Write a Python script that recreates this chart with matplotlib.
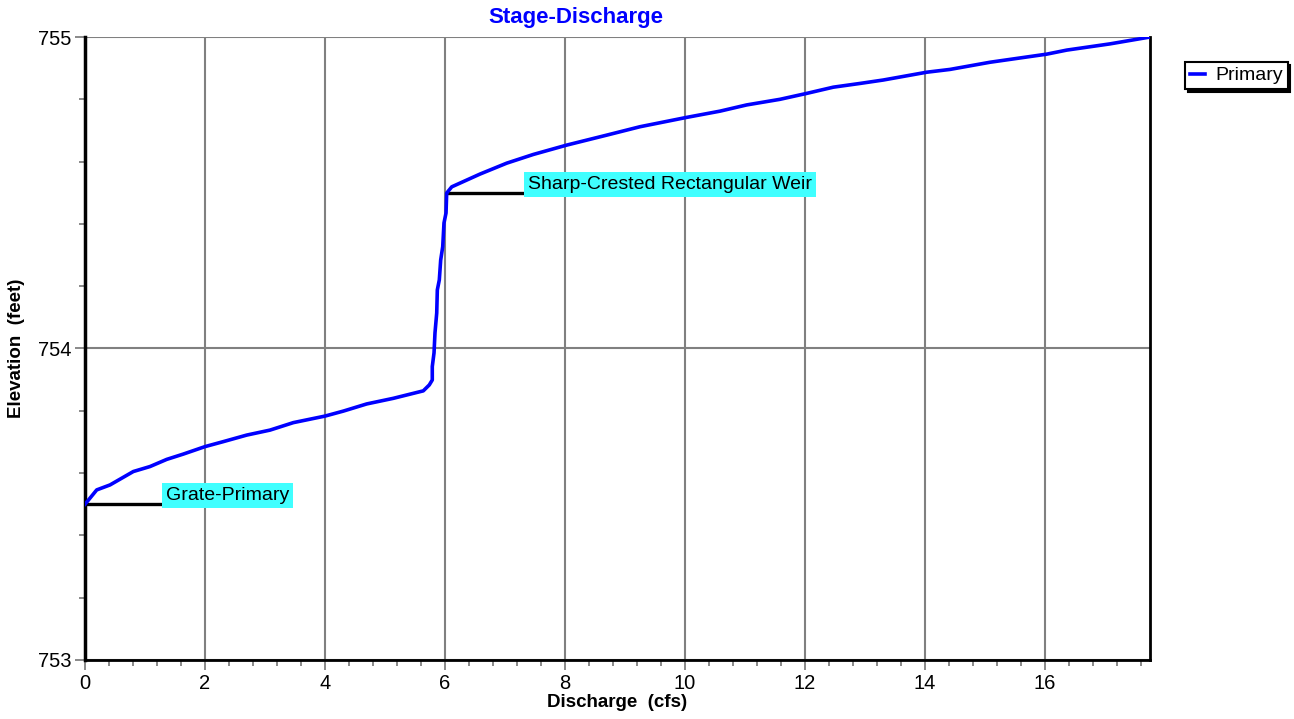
import matplotlib.pyplot as plt
from matplotlib.ticker import MultipleLocator

plt.rcParams['font.family'] = ['Liberation Sans', 'DejaVu Sans']

# Stage-discharge curve
discharge = [0.0, 0.195, 0.417, 0.805, 1.083, 1.362, 1.638, 2.0, 2.305, 2.695,
             3.083, 3.472, 4.0, 4.305, 4.695, 5.138, 5.638, 5.738,
             5.788, 5.788, 5.817, 5.833, 5.862, 5.872, 5.905, 5.928, 5.962,
             5.983, 6.017, 6.028, 6.112, 6.583, 7.028, 7.472, 8.028, 8.695,
             9.25, 10.028, 10.583, 11.028, 11.583, 12.028, 12.472, 12.917,
             13.305, 14.028, 14.417, 15.083, 16.028, 16.362, 17.083, 17.75]
elevation = [753.50, 753.546, 753.562, 753.605, 753.621, 753.644, 753.661,
             753.685, 753.701, 753.722, 753.738, 753.762, 753.783, 753.799,
             753.822, 753.840, 753.864, 753.883,
             753.899, 753.942, 753.986, 754.050, 754.114, 754.188, 754.220,
             754.284, 754.327, 754.403, 754.435, 754.499, 754.519, 754.560,
             754.595, 754.623, 754.653, 754.685, 754.712, 754.742, 754.762,
             754.782, 754.800, 754.819, 754.839, 754.851, 754.862, 754.887,
             754.896, 754.919, 754.945, 754.958, 754.978, 755.0]

# Outlet device labels: name, elevation, start discharge
devices = ['Grate-Primary', 'Sharp-Crested Rectangular Weir']
device_elev = [753.5, 754.5]
device_q = [0.0, 6.03]

fig = plt.figure(figsize=(12.94, 7.19), dpi=100)
ax = fig.add_axes([0.0657, 0.0821, 0.8230, 0.8664])

ax.plot(discharge, elevation, color='#0000ff', lw=2.6, label='Primary', zorder=4)

# marker lines + cyan labels
for name, el, q in zip(devices, device_elev, device_q):
    ax.plot([q, q + 1.25], [el, el], color='black', lw=2.4, zorder=3)
    ax.text(q + 1.35, el + 0.027, name, fontsize=14, va='center', ha='left',
            bbox=dict(facecolor='#40ffff', edgecolor='none', pad=3), zorder=5)

ax.set_xlim(0, 17.75)
ax.set_ylim(753, 755)
ax.xaxis.set_major_locator(MultipleLocator(2))
ax.xaxis.set_minor_locator(MultipleLocator(0.4))
ax.yaxis.set_major_locator(MultipleLocator(1))
ax.yaxis.set_minor_locator(MultipleLocator(0.2))
ax.yaxis.set_major_formatter(plt.FormatStrFormatter('%d'))

ax.grid(True, which='major', color='#808080', lw=1.5)
ax.set_axisbelow(True)
ax.tick_params(which='major', length=7, width=1.3, color='#808080', labelsize=14.5, pad=3)
ax.tick_params(which='minor', length=4, width=1.3, color='#808080')

ax.spines['top'].set_visible(False)
ax.spines['left'].set_linewidth(2.5)
ax.spines['bottom'].set_linewidth(2)
ax.spines['right'].set_linewidth(2)

ax.set_xlabel('Discharge  (cfs)', fontsize=13.5, fontweight='bold', labelpad=1)
ax.set_ylabel('Elevation  (feet)', fontsize=13.5, fontweight='bold', labelpad=9)
fig.text(576 / 1294, 1 - 17 / 719, 'Stage-Discharge', color='#0000ff',
         fontsize=16, fontweight='bold', ha='center', va='center')

leg = ax.legend(loc='upper left', bbox_to_anchor=(0.9158, 0.914),
                bbox_transform=fig.transFigure, fontsize=14, fancybox=False,
                shadow={'color': 'black', 'alpha': 1}, handlelength=0.8,
                handletextpad=0.5, borderpad=0.25, borderaxespad=0)
leg.get_frame().set_edgecolor('black')
leg.get_frame().set_linewidth(1.5)

fig.savefig('out.png', dpi=100)
